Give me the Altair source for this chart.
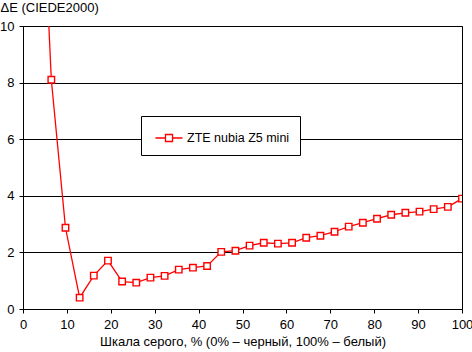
import altair as alt
import pandas as pd

# grey-scale steps (k * 100/31) and measured ΔE values
steps = list(range(1, 32))
gray = [k * 100 / 31 for k in steps]
delta_e = [19.0, 8.1, 2.87, 0.40, 1.18, 1.71, 0.97, 0.93, 1.11, 1.17,
           1.39, 1.46, 1.52, 2.02, 2.06, 2.24, 2.34, 2.31, 2.34, 2.52,
           2.59, 2.73, 2.91, 3.05, 3.19, 3.33, 3.40, 3.44, 3.53, 3.61, 3.90]
series_name = "ZTE nubia Z5 mini"

x_ticks = [0, 10, 20, 30, 40, 50, 60, 70, 80, 90, 100]
y_ticks = [0, 2, 4, 6, 8, 10]

df = pd.DataFrame({"gray": gray, "de": delta_e, "series": series_name})

FONT = "Liberation Sans"
RED = "#ff0000"

x_enc = alt.X(
    "gray:Q",
    scale=alt.Scale(domain=[0, 100], nice=False),
    axis=alt.Axis(
        values=x_ticks,
        title="Шкала серого, % (0% – черный, 100% – белый)",
        grid=False,
        tickSize=4,
        labelPadding=5,
        titlePadding=4,
        labelFlush=False,
    ),
)
y_enc = alt.Y(
    "de:Q",
    scale=alt.Scale(domain=[0, 10], nice=False),
    axis=alt.Axis(
        values=y_ticks,
        title="ΔE (CIEDE2000)",
        titleAngle=0,
        titleAlign="left",
        titleBaseline="alphabetic",
        titleX=-23,
        titleY=-15,
        grid=True,
        gridColor="black",
        gridOpacity=1,
        gridWidth=1,
        tickSize=4,
        labelPadding=5,
        format="d",
    ),
)

legend_symbol = ("M-1.23,0H-0.32M0.32,0H1.23"
                 "M-0.32,-0.32H0.32V0.32H-0.32Z")

line = alt.Chart(df).mark_line(clip=True, strokeWidth=1.3).encode(
    x=x_enc,
    y=y_enc,
    color=alt.Color(
        "series:N",
        scale=alt.Scale(range=[RED]),
        legend=alt.Legend(
            title=None,
            orient="none",
            legendX=118,
            legendY=90,
            fillColor="white",
            strokeColor="black",
            padding=10,
            symbolType=legend_symbol,
            symbolSize=484,
            symbolStrokeColor=RED,
            symbolFillColor="white",
            symbolStrokeWidth=1.3,
            symbolOffset=6,
            labelOffset=6,
            labelFont=FONT,
            labelFontSize=12.5,
            labelColor="black",
        ),
    ),
)

points = alt.Chart(df).mark_point(
    clip=True, shape="square", size=42, filled=True,
    fill="white", stroke=RED, strokeWidth=1.4, opacity=1,
).encode(x="gray:Q", y="de:Q")

chart = alt.layer(line, points).properties(
    width=439,
    height=283,
    background="white",
    autosize=alt.AutoSizeParams(type="none"),
    padding={"left": 23, "top": 26, "right": 10, "bottom": 43},
).configure_view(
    stroke="black", strokeWidth=1,
).configure_axis(
    domainColor="black",
    tickColor="black",
    labelColor="black",
    titleColor="black",
    labelFont=FONT,
    titleFont=FONT,
    labelFontSize=13,
    titleFontSize=13,
    titleFontWeight="normal",
)

chart.save("out.html", embed_options={"renderer": "svg", "actions": False})
